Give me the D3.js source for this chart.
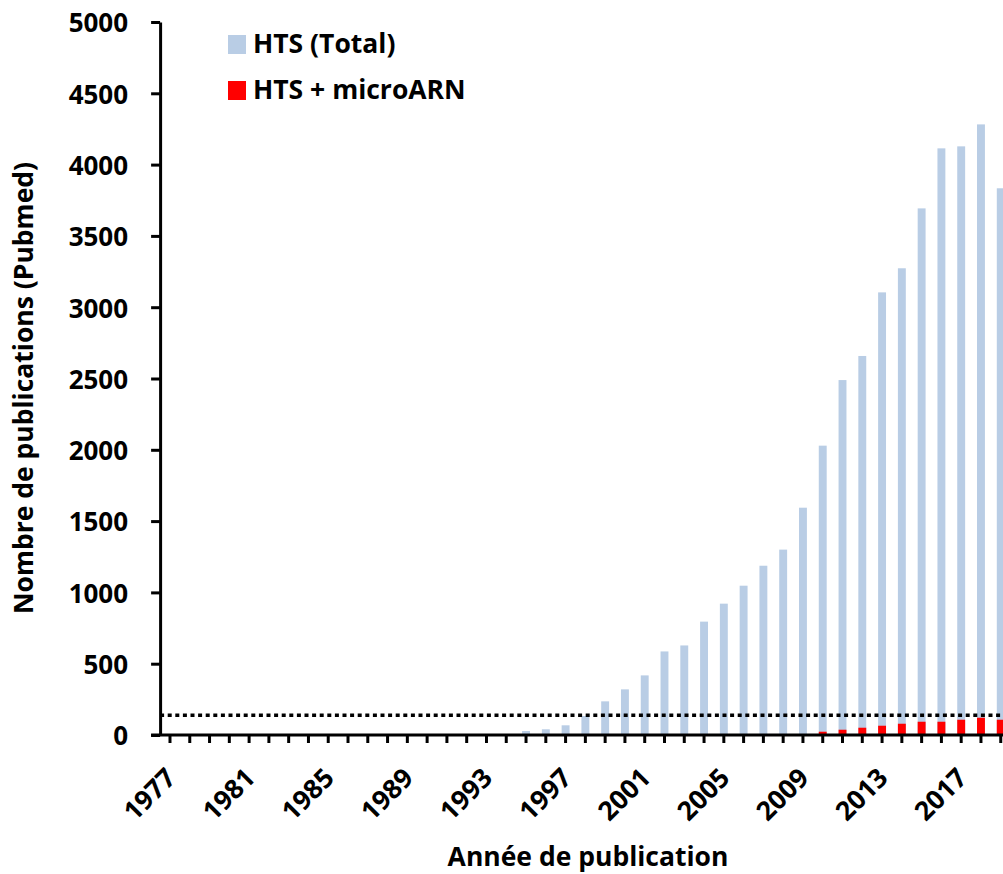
<!DOCTYPE html>
<html>
<head>
<meta charset="utf-8">
<script src="https://cdn.jsdelivr.net/npm/d3@7/dist/d3.min.js"></script>
<style>
  html, body { margin: 0; padding: 0; background: #fff; }
  svg { display: block; overflow: hidden; }
  text { font-family: "Open Sans", "Liberation Sans", sans-serif; font-weight: 700; fill: #000; }
</style>
</head>
<body>
<svg id="chart" width="1003" height="874"></svg>
<script>
// Publication years (one category per year)
const years = [
  1977, 1978, 1979, 1980, 1981, 1982, 1983, 1984, 1985, 1986,
  1987, 1988, 1989, 1990, 1991, 1992, 1993, 1994, 1995, 1996,
  1997, 1998, 1999, 2000, 2001, 2002, 2003, 2004, 2005, 2006,
  2007, 2008, 2009, 2010, 2011, 2012, 2013, 2014, 2015, 2016,
  2017, 2018, 2019
];

// Total HTS publications per year (Pubmed)
const htsTotal = [
  0, 0, 0, 0, 0, 0, 0, 0, 0, 0,
  0, 0, 0, 0, 0, 0, 0, 0, 28, 40,
  68, 133, 236, 320, 418, 586, 628, 795, 921, 1047,
  1187, 1300, 1594, 2029, 2489, 2658, 3104, 3273, 3693, 4114,
  4128, 4282, 3834
];

// HTS publications that also mention microRNA
const htsMicroArn = [
  0, 0, 0, 0, 0, 0, 0, 0, 0, 0,
  0, 0, 0, 0, 0, 0, 0, 0, 0, 0,
  0, 0, 0, 0, 0, 0, 0, 0, 0, 0,
  0, 0, 0, 23, 37, 51, 65, 79, 93, 93,
  107, 121, 107
];

// Dotted reference level
const referenceLevel = 138;

// Axis tick labels
const yTickValues = [0, 500, 1000, 1500, 2000, 2500, 3000, 3500, 4000, 4500, 5000];
const xTickLabels = [1977, 1981, 1985, 1989, 1993, 1997, 2001, 2005, 2009, 2013, 2017];

const seriesNames = ["HTS (Total)", "HTS + microARN"];
const seriesColors = ["#b9cde5", "#ff0000"];

const svg = d3.select("#chart");
const plotLeft = 160.1, plotTop = 22, plotBottom = 735;
const step = 19.78;

const x = d3.scaleBand()
  .domain(years)
  .range([plotLeft, plotLeft + step * years.length])
  .paddingInner(0.6)
  .paddingOuter(0.3);

const y = d3.scaleLinear()
  .domain([0, 5000])
  .range([plotBottom, plotTop]);

// Bars: total first, microRNA subset drawn over it
const rows = years.map((yr, i) => ({ year: yr, total: htsTotal[i], mirna: htsMicroArn[i] }));

svg.append("g").selectAll("rect")
  .data(rows)
  .join("rect")
  .attr("x", d => x(d.year))
  .attr("width", x.bandwidth())
  .attr("y", d => y(d.total))
  .attr("height", d => y(0) - y(d.total))
  .attr("fill", seriesColors[0]);

svg.append("g").selectAll("rect")
  .data(rows.filter(d => d.mirna > 0))
  .join("rect")
  .attr("x", d => x(d.year))
  .attr("width", x.bandwidth())
  .attr("y", d => y(d.mirna))
  .attr("height", d => y(0) - y(d.mirna))
  .attr("fill", seriesColors[1]);

// Dotted reference line
svg.append("line")
  .attr("x1", plotLeft)
  .attr("x2", 1010)
  .attr("y1", y(referenceLevel))
  .attr("y2", y(referenceLevel))
  .attr("stroke", "#000")
  .attr("stroke-width", 3.5)
  .attr("stroke-dasharray", "4 3.6");

// Y axis
const yAxis = svg.append("g")
  .attr("transform", `translate(${plotLeft},0)`)
  .call(d3.axisLeft(y).tickValues(yTickValues).tickSize(9).tickSizeOuter(0).tickPadding(23).tickFormat(d3.format("d")));
yAxis.selectAll("path, line").attr("stroke", "#000").attr("stroke-width", 3);
yAxis.selectAll("text").attr("font-size", "26px").attr("dy", "0.38em");

// X axis
const xAxis = svg.append("g")
  .attr("transform", `translate(0,${plotBottom})`)
  .call(d3.axisBottom(x).tickSize(8).tickSizeOuter(0)
    .tickFormat(d => xTickLabels.includes(d) ? String(d) : ""));
xAxis.select(".domain").attr("d", `M${plotLeft - 9},0H1010`);
xAxis.selectAll("path, line").attr("stroke", "#000").attr("stroke-width", 3);
xAxis.selectAll("text")
  .attr("font-size", "26.5px")
  .attr("x", 0).attr("y", 0)
  .attr("dy", "0.72em")
  .attr("text-anchor", "end")
  .attr("transform", "translate(-6,31) rotate(-45)");

// Axis titles
svg.append("text")
  .attr("x", 588).attr("y", 866)
  .attr("text-anchor", "middle")
  .attr("font-size", "26.5px")
  .text("Année de publication");

svg.append("text")
  .attr("transform", "translate(33,388) rotate(-90)")
  .attr("text-anchor", "middle")
  .attr("font-size", "26.5px")
  .text("Nombre de publications (Pubmed)");

// Legend
const legend = svg.append("g");
seriesNames.forEach((name, i) => {
  const g = legend.append("g").attr("transform", `translate(228,${35 + i * 46})`);
  g.append("rect").attr("width", 18).attr("height", 19).attr("fill", seriesColors[i]);
  g.append("text").attr("x", 25).attr("y", 18).attr("font-size", "26.5px").text(name);
});
</script>
</body>
</html>
